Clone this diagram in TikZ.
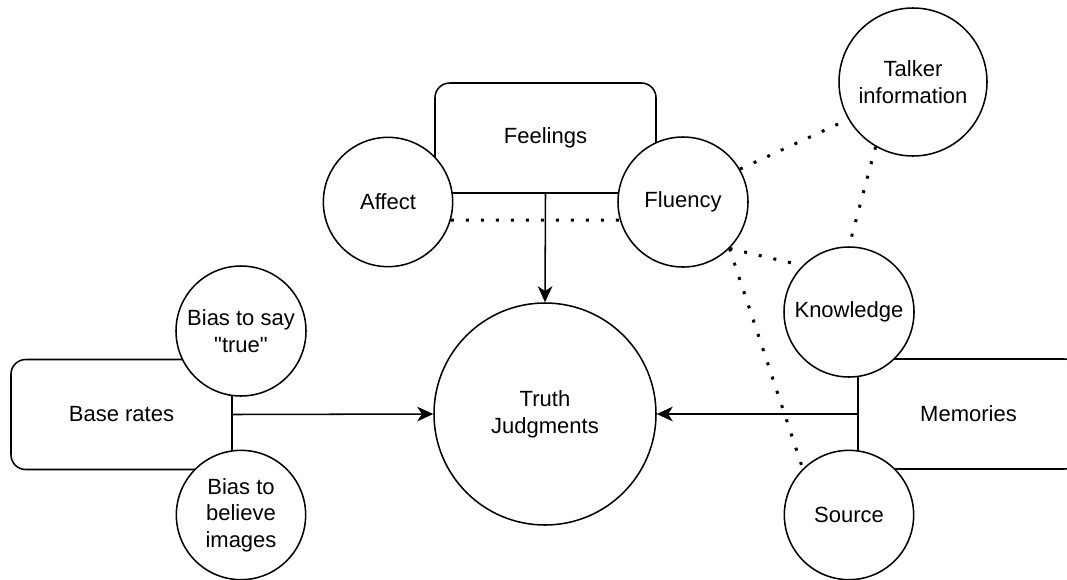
\documentclass[tikz,border=0pt]{standalone}
\usepackage{fontspec}
\setmainfont{Liberation Sans}
\usetikzlibrary{arrows.meta}
\newcommand\dqmark{\XeTeXglyph\XeTeXcharglyph"22\relax}
\tikzset{
  every node/.style={font=\fontsize{16.5}{20}\selectfont, align=center},
  circ/.style={circle, draw=black, line width=1.15pt, fill=white, inner sep=0pt},
  rbox/.style={rectangle, rounded corners=11pt, draw=black, line width=1.15pt, fill=white,
    minimum width=165.75pt, minimum height=82.5pt, inner sep=0pt},
  arr/.style={line width=1.15pt, -{Stealth[length=12pt, width=11pt, inset=3.5pt]}},
  dotline/.style={line width=2.25pt, line cap=butt, dash pattern=on 2.25pt off 9pt}
}
\begin{document}
\begin{tikzpicture}[x=0.75pt, y=-0.75pt]
\useasboundingbox (0,0) rectangle (1067,579);
\clip (0,0) rectangle (1067,579);
% boxes
\node[rbox] (feel) at (545.5,138) {Feelings};
\node[rbox] (base) at (121.5,414.5) {Base rates};
\node[rbox] (mem) at (968.5,414) {Memories};
% circles
\node[circ, minimum size=97pt] (aff) at (388,202) {Affect};
\node[circ, minimum size=97.5pt] (flu) at (683,202) {Fluency};
\node[circ, minimum size=111pt] (tal) at (913,82) {Talker\\information};
\node[circ, minimum size=97.5pt] (kno) at (849,312) {Knowledge};
\node[circ, minimum size=97pt] (src) at (849,515) {Source};
\node[circ, minimum size=97.5pt] (b1) at (241,331) {Bias to say\\\dqmark true\dqmark};
\node[circ, minimum size=97pt] (b2) at (241,515) {Bias to\\believe\\images};
\node[circ, minimum size=166.5pt] (truth) at (545,414) {Truth\\Judgments};
% arrows
\draw[arr] (feel.south) -- (truth.north);
\draw[arr] (base.east) -- (truth.west);
\draw[arr] (mem.west) -- (truth.east);
% dotted links
\draw[dotline] (aff.-16) -- (flu.196);
\draw[dotline] (flu.30) -- (tal.210);
\draw[dotline] (tal.240) -- (kno.north);
\draw[dotline] (flu.-45) -- (kno.135);
\draw[dotline] (flu.-45) -- (src.135);
\end{tikzpicture}
\end{document}
